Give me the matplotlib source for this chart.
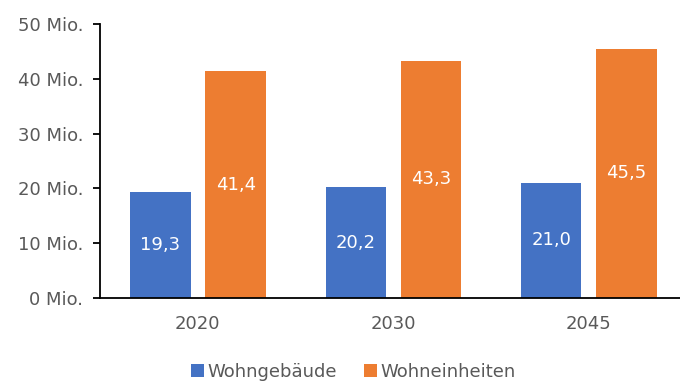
import numpy as np
import matplotlib
matplotlib.use('Agg')
import matplotlib.pyplot as plt
from matplotlib.ticker import FuncFormatter

# Daten in Mio.
jahre = ['2020', '2030', '2045']
wohngebaeude = [19.3, 20.2, 21.0]
wohneinheiten = [41.4, 43.3, 45.5]
serien = ['Wohngebäude', 'Wohneinheiten']

blau = '#4472C4'
orange = '#ED7D31'
grau = '#595959'

plt.rcParams['font.family'] = ['DejaVu Sans']

fig = plt.figure(figsize=(6.8, 3.85), dpi=100)
ax = fig.add_axes([100 / 680, 87 / 385, 1 - 100 / 680, 274 / 385])

x = np.arange(len(jahre))
breite = 0.31
b1 = ax.bar(x - 0.19, wohngebaeude, breite, color=blau, label=serien[0])
b2 = ax.bar(x + 0.195, wohneinheiten, breite, color=orange, label=serien[1])

# Werte in die Balkenmitte schreiben
for balken in (b1, b2):
    for r in balken:
        h = r.get_height()
        ax.text(r.get_x() + r.get_width() / 2, h / 2, f'{h:.1f}'.replace('.', ','),
                ha='center', va='center', color='white', fontsize=13)

ax.set_xlim(-0.5, 2.47)
ax.set_ylim(0, 50)
ax.set_yticks(range(0, 51, 10))
ax.yaxis.set_major_formatter(FuncFormatter(lambda v, p: f'{int(v)} Mio.'))
ax.set_xticks(x)
ax.set_xticklabels(jahre)

for s in ('top', 'right'):
    ax.spines[s].set_visible(False)
ax.spines['left'].set_linewidth(1.3)
ax.spines['bottom'].set_linewidth(1.3)
ax.tick_params(axis='y', colors='black', labelcolor=grau, labelsize=13, length=5, width=1.3, pad=7)
ax.tick_params(axis='x', length=0, labelcolor=grau, labelsize=13, pad=12)

fig.legend(loc='center', bbox_to_anchor=(0.52, 0.035), ncol=2, frameon=False,
           fontsize=13, handlelength=0.7, handleheight=0.7, handletextpad=0.2,
           columnspacing=1.5, labelcolor=grau)

fig.savefig('out.png', dpi=100)
